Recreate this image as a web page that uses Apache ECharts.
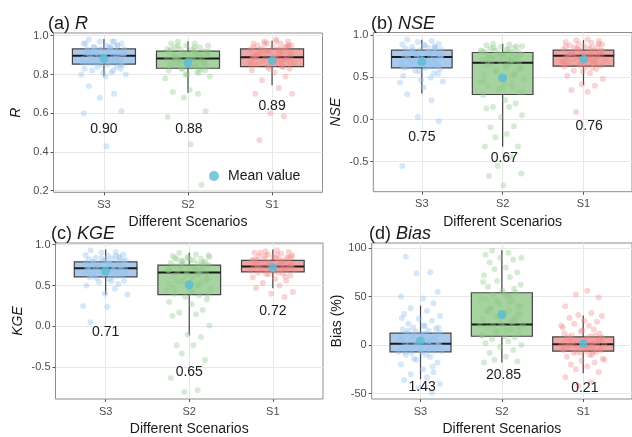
<!DOCTYPE html>
<html><head><meta charset="utf-8">
<script src="https://cdn.jsdelivr.net/npm/echarts@6/dist/echarts.min.js"></script>
<style>html,body{margin:0;padding:0;background:#fff}#c{width:632px;height:437px}</style>
</head><body><div id="c"></div>
<script>
const categories = ['S3', 'S2', 'S1'];

// ---- (a) R ----
const boxR = [[0.79, 0.853, 0.897, 0.932, 0.983], [0.706, 0.832, 0.882, 0.92, 0.971], [0.744, 0.841, 0.889, 0.932, 0.974]];
const meanR = [0.882, 0.86, 0.872];
const medianTextR = ['0.90', '0.88', '0.89'];
const textPosR = [[1, 0.516], [2.01, 0.516], [3, 0.636]];
const ptsR_S3 = [0.98,0.97,0.97,0.96,0.96,0.95,0.95,0.94,0.94,0.93,0.93,0.93,0.92,0.92,0.92,0.91,0.91,0.91,0.90,0.90,0.90,0.90,0.89,0.89,0.89,0.88,0.88,0.88,0.87,0.87,0.86,0.86,0.86,0.85,0.85,0.84,0.84,0.83,0.82,0.81,0.80,0.80,0.79,0.74,0.70,0.68,0.61,0.60,0.43,
  0.95,0.94,0.93,0.92,0.91,0.90,0.89,0.88,0.87,0.86,0.85,0.96,0.97,0.93,0.91,0.90,0.89,0.88,0.92,0.94,0.86,0.87,0.85,0.83,0.82,0.81];
const ptsR_S2 = [0.97,0.96,0.96,0.95,0.95,0.94,0.94,0.93,0.93,0.92,0.92,0.91,0.91,0.90,0.90,0.89,0.89,0.88,0.88,0.88,0.87,0.87,0.86,0.86,0.85,0.85,0.84,0.84,0.83,0.83,0.82,0.81,0.80,0.79,0.78,0.72,0.71,0.70,0.68,0.61,0.58,0.44,0.23,
  0.95,0.94,0.93,0.92,0.91,0.90,0.89,0.88,0.87,0.86,0.85,0.84,0.83,0.90,0.88,0.87,0.86,0.85,0.92,0.93,0.81,0.80,0.82,0.89,0.91];
const ptsR_S1 = [0.98,0.97,0.97,0.96,0.96,0.96,0.95,0.95,0.94,0.94,0.93,0.93,0.93,0.92,0.92,0.91,0.91,0.90,0.90,0.89,0.89,0.89,0.88,0.88,0.87,0.87,0.86,0.86,0.85,0.85,0.84,0.84,0.83,0.82,0.81,0.79,0.77,0.73,0.70,0.70,0.60,0.585,0.46,
  0.97,0.96,0.95,0.94,0.93,0.92,0.91,0.90,0.89,0.88,0.87,0.86,0.85,0.84,0.83,0.95,0.93,0.91,0.90,0.88,0.86,0.92,0.94,0.89,0.87];

// ---- (b) NSE ----
const boxNSE = [[0.309, 0.613, 0.743, 0.822, 0.945], [-0.323, 0.297, 0.672, 0.795, 0.90], [0.408, 0.633, 0.755, 0.822, 0.94]];
const meanNSE = [0.684, 0.494, 0.716];
const medianTextNSE = ['0.75', '0.67', '0.76'];
const textPosNSE = [[1, -0.205], [2.02, -0.46], [3.07, -0.078]];
const ptsNSE_S3 = [0.95,0.93,0.92,0.90,0.89,0.88,0.87,0.86,0.85,0.84,0.83,0.82,0.81,0.80,0.79,0.78,0.77,0.76,0.75,0.75,0.74,0.73,0.72,0.71,0.70,0.69,0.68,0.67,0.66,0.65,0.64,0.63,0.62,0.61,0.60,0.58,0.55,0.52,0.50,0.47,0.45,0.44,0.38,0.30,0.23,0.03,-0.02,-0.55,
  0.88,0.85,0.82,0.80,0.78,0.76,0.74,0.72,0.70,0.68,0.66,0.64,0.62,0.79,0.77,0.75,0.73,0.71,0.84,0.81,0.69,0.65,0.63,0.57,0.54];
const ptsNSE_S2 = [0.90,0.89,0.88,0.87,0.86,0.85,0.84,0.83,0.82,0.81,0.80,0.79,0.78,0.77,0.76,0.75,0.74,0.73,0.72,0.71,0.70,0.69,0.68,0.67,0.66,0.64,0.62,0.60,0.58,0.56,0.54,0.52,0.50,0.48,0.45,0.42,0.40,0.38,0.35,0.32,0.29,0.23,0.19,0.15,0.15,0.13,0.05,0.03,-0.08,-0.09,-0.17,-0.21,-0.32,-0.32,-0.44,-0.55,-0.64,-0.67,-0.78,
  0.87,0.85,0.83,0.81,0.79,0.77,0.75,0.73,0.71,0.69,0.65,0.61,0.57,0.53,0.47,0.43,0.37,0.33,0.82,0.78,0.74,0.70];
const ptsNSE_S1 = [0.95,0.94,0.93,0.92,0.91,0.90,0.89,0.88,0.87,0.86,0.85,0.84,0.83,0.82,0.81,0.80,0.79,0.78,0.77,0.76,0.76,0.75,0.74,0.73,0.72,0.71,0.70,0.69,0.68,0.67,0.66,0.65,0.64,0.63,0.62,0.60,0.58,0.55,0.52,0.48,0.42,0.40,0.35,0.33,0.09,
  0.90,0.87,0.85,0.83,0.81,0.79,0.77,0.75,0.73,0.71,0.69,0.67,0.65,0.80,0.78,0.76,0.74,0.72,0.82,0.84,0.70,0.66,0.61,0.57];

// ---- (c) KGE ----
const boxKGE = [[0.388, 0.606, 0.71, 0.79, 0.94], [-0.108, 0.388, 0.658, 0.75, 0.90], [0.468, 0.666, 0.734, 0.807, 0.94]];
const meanKGE = [0.678, 0.509, 0.718];
const medianTextKGE = ['0.71', '0.65', '0.72'];
const textPosKGE = [[1, -0.07], [2, -0.554], [3, 0.186]];
const ptsKGE_S3 = [0.93,0.91,0.90,0.88,0.87,0.86,0.85,0.84,0.83,0.82,0.81,0.80,0.79,0.78,0.77,0.76,0.75,0.74,0.73,0.72,0.71,0.71,0.70,0.69,0.68,0.67,0.66,0.65,0.64,0.63,0.62,0.61,0.60,0.58,0.56,0.54,0.52,0.50,0.46,0.40,0.39,0.25,0.24,0.05,
  0.86,0.83,0.80,0.78,0.76,0.74,0.72,0.70,0.68,0.66,0.64,0.62,0.79,0.77,0.75,0.73,0.71,0.69,0.67,0.65,0.63,0.81,0.84,0.59,0.55];
const ptsKGE_S2 = [0.90,0.88,0.86,0.85,0.84,0.83,0.82,0.81,0.80,0.79,0.78,0.77,0.76,0.75,0.74,0.73,0.72,0.71,0.70,0.69,0.68,0.67,0.66,0.65,0.64,0.62,0.60,0.58,0.56,0.54,0.52,0.50,0.48,0.46,0.44,0.42,0.40,0.38,0.36,0.33,0.30,0.27,0.20,0.17,0.15,0.13,0.01,-0.10,-0.13,-0.23,-0.23,-0.33,-0.41,-0.63,-0.78,-0.80,
  0.87,0.84,0.81,0.78,0.75,0.72,0.69,0.66,0.63,0.59,0.55,0.51,0.47,0.43,0.39,0.80,0.76,0.70,0.64,0.85];
const ptsKGE_S1 = [0.93,0.92,0.91,0.90,0.89,0.88,0.87,0.86,0.85,0.84,0.83,0.82,0.81,0.80,0.79,0.78,0.77,0.76,0.75,0.74,0.73,0.73,0.72,0.72,0.71,0.70,0.69,0.68,0.67,0.66,0.65,0.64,0.62,0.60,0.58,0.56,0.53,0.50,0.47,0.42,0.40,0.36,
  0.90,0.88,0.86,0.84,0.82,0.80,0.78,0.76,0.74,0.72,0.70,0.68,0.66,0.79,0.77,0.75,0.73,0.71,0.69,0.81,0.83,0.85,0.64,0.61];

// ---- (d) Bias ----
const boxBias = [[-35.1, -6.9, 1.5, 12.4, 40.6], [-17.8, 9.1, 21.3, 53.9, 97.6], [-29, -6.2, 0.9, 8.4, 30.4]];
const meanBias = [4.3, 31.5, 1.5];
const medianTextBias = ['1.43', '20.85', '0.21'];
const textPosBias = [[1.02, -43.1], [2.02, -31.1], [3.02, -44.1]];
const ptsBias_S3 = [91,75,74,55,50,48,43,38,35,32,30,27,25,22,20,18,17,16,15,14,13,12,11,10,9,8,7,6,5,4,3,2,2,1,0,-1,-2,-3,-4,-5,-6,-7,-8,-10,-12,-15,-18,-20,-25,-28,-30,-33,-36,-40,-44,-49,
  15,12,10,8,6,4,2,0,-2,-4,-6,-8,-10,5,3,1,-1,-3,-5,-7,20,18,-14,-22,28];
const ptsBias_S2 = [97,95,93,90,90,88,85,80,78,75,72,70,66,62,60,56,54,52,50,48,45,42,40,38,36,35,33,31,30,28,26,24,22,21,20,19,18,16,14,12,10,9,8,6,4,2,0,-2,-5,-8,-12,-15,-17,-18,
  50,45,40,35,30,25,20,15,10,23,27,33,38,43,47,52,18,14,58,65];
const ptsBias_S1 = [56,52,49,40,33,31,30,28,25,24,22,20,18,16,14,12,10,9,8,7,6,5,4,3,2,1,1,0,0,-1,-2,-3,-4,-5,-6,-7,-8,-10,-12,-14,-16,-18,-20,-22,-25,-28,-33,-38,-42,
  8,6,4,2,0,-2,-4,-6,-8,5,3,1,-1,-3,-5,-7,10,12,-10,15,-15,20];

// fixed horizontal jitter offsets (category units), cycled over points
const jitter = [-0.18,0.12,-0.05,0.21,-0.24,0.03,0.16,-0.12,0.08,-0.2,0.24,-0.02,0.14,-0.15,0.05,-0.09,0.19,-0.22,0.1,-0.06,0.23,-0.17,0.01,0.17,-0.11,0.07,-0.25,0.13,-0.03,0.2,-0.14,0.09,-0.19,0.04,0.22,-0.08,0.15,-0.23,0.11,-0.01,0.26,-0.27,0.02];

const yTicksR = [0.2, 0.4, 0.6, 0.8, 1.0];
const yTicksNSE = [-0.5, 0, 0.5, 1.0];
const yTicksKGE = [-0.5, 0, 0.5, 1.0];
const yTicksBias = [-50, 0, 50, 100];

const FONT = 'Liberation Sans, Arial, sans-serif';
const boxFill = ['#aacaed', '#a6d3a0', '#f1a6a6'];
const ptColor = ['rgba(150,195,238,0.5)', 'rgba(140,200,135,0.45)', 'rgba(240,135,135,0.45)'];
const meanColor = '#58bdd6';

const panels = [
  {box: boxR, mean: meanR, txt: medianTextR, txtPos: textPosR, pts: [ptsR_S3, ptsR_S2, ptsR_S1], ticks: yTicksR, dec: 1,
   grid: {left: 53.5, top: 33, width: 269, height: 159.3}, ymin: 0.192, ymax: 1.014, yname: 'R', italic: true},
  {box: boxNSE, mean: meanNSE, txt: medianTextNSE, txtPos: textPosNSE, pts: [ptsNSE_S3, ptsNSE_S2, ptsNSE_S1], ticks: yTicksNSE, dec: 1,
   grid: {left: 373.3, top: 32.5, width: 266.7, height: 159.2}, ymin: -0.855, ymax: 1.032, yname: 'NSE', italic: true},
  {box: boxKGE, mean: meanKGE, txt: medianTextKGE, txtPos: textPosKGE, pts: [ptsKGE_S3, ptsKGE_S2, ptsKGE_S1], ticks: yTicksKGE, dec: 1,
   grid: {left: 55.5, top: 243, width: 267.5, height: 157.7}, ymin: -0.887, ymax: 1.02, yname: 'KGE', italic: true},
  {box: boxBias, mean: meanBias, txt: medianTextBias, txtPos: textPosBias, pts: [ptsBias_S3, ptsBias_S2, ptsBias_S1], ticks: yTicksBias, dec: 0,
   grid: {left: 371.7, top: 243, width: 268.3, height: 157.7}, ymin: -55.5, ymax: 105.1, yname: 'Bias (%)', italic: false}
];

function renderBox(params, api) {
  const x = api.value(0);
  const pLo = api.coord([x, api.value(1)]);
  const pQ1 = api.coord([x, api.value(2)]);
  const pMed = api.coord([x, api.value(3)]);
  const pQ3 = api.coord([x, api.value(4)]);
  const pHi = api.coord([x, api.value(5)]);
  const w = api.size([0.75, 0])[0];
  const cx = pMed[0];
  return {type: 'group', children: [
    {type: 'line', shape: {x1: cx, y1: pHi[1], x2: cx, y2: pQ3[1]}, style: {stroke: '#444', lineWidth: 1.2}},
    {type: 'line', shape: {x1: cx, y1: pQ1[1], x2: cx, y2: pLo[1]}, style: {stroke: '#444', lineWidth: 1.2}},
    {type: 'rect', shape: {x: cx - w / 2, y: pQ3[1], width: w, height: pQ1[1] - pQ3[1]}, style: {fill: boxFill[params.dataIndex], stroke: '#444', lineWidth: 1.2}},
    {type: 'line', shape: {x1: cx - w / 2, y1: pMed[1], x2: cx + w / 2, y2: pMed[1]}, style: {stroke: '#1a1a1a', lineWidth: 2}}
  ]};
}

const grids = [], xAxes = [], yAxes = [], series = [];
panels.forEach((p, i) => {
  grids.push(Object.assign({show: true, borderColor: '#8c8c8c', borderWidth: 1, backgroundColor: '#fff'}, p.grid));
  xAxes.push({
    type: 'value', gridIndex: i, min: 0.4, max: 3.6, position: 'bottom',
    axisLine: {show: false, onZero: false},
    axisTick: {show: true, customValues: [1, 2, 3], length: 3, lineStyle: {color: '#555'}},
    axisLabel: {customValues: [1, 2, 3], formatter: v => categories[Math.round(v) - 1], color: '#4d4d4d', fontSize: 11, fontFamily: FONT, margin: 7},
    splitLine: {show: true, lineStyle: {color: '#e8e8e8', width: 1}},
    name: 'Different Scenarios', nameLocation: 'middle', nameGap: 23,
    nameTextStyle: {fontSize: 14, color: '#1a1a1a', fontFamily: FONT}
  });
  yAxes.push({
    type: 'value', gridIndex: i, min: p.ymin, max: p.ymax, position: 'left',
    axisLine: {show: false, onZero: false},
    axisTick: {show: true, customValues: p.ticks, length: 3, lineStyle: {color: '#555'}},
    axisLabel: {customValues: p.ticks, formatter: v => Number(v).toFixed(p.dec), color: '#4d4d4d', fontSize: 11, fontFamily: FONT, margin: 5},
    splitLine: {show: true, lineStyle: {color: '#e8e8e8', width: 1}},
    name: p.yname, nameLocation: 'middle', nameGap: p.dec === 0 ? 26 : 30,
    nameTextStyle: {fontSize: 14, color: '#1a1a1a', fontFamily: FONT, fontStyle: p.italic ? 'italic' : 'normal'}
  });
  series.push({
    type: 'custom', xAxisIndex: i, yAxisIndex: i, z: 2,
    renderItem: renderBox,
    encode: {x: 0, y: [1, 2, 3, 4, 5]},
    data: p.box.map((b, k) => [k + 1].concat(b))
  });
  p.pts.forEach((arr, k) => {
    series.push({
      type: 'scatter', xAxisIndex: i, yAxisIndex: i, z: 3, symbolSize: 6,
      itemStyle: {color: ptColor[k]},
      silent: true,
      data: arr.map((v, j) => [k + 1 + jitter[(j + k * 7) % jitter.length], v])
    });
  });
  series.push({
    type: 'scatter', name: 'Mean value', xAxisIndex: i, yAxisIndex: i, z: 4, symbolSize: 9,
    itemStyle: {color: meanColor},
    data: p.mean.map((v, k) => [k + 1, v])
  });
  series.push({
    type: 'custom', xAxisIndex: i, yAxisIndex: i, z: 5, silent: true,
    encode: {x: 0, y: 1},
    renderItem: (prm, api) => {
      const pt = api.coord([api.value(0), api.value(1)]);
      return {type: 'text', x: pt[0], y: pt[1], style: {text: p.txt[prm.dataIndex], fontSize: 14, fill: '#1a1a1a', fontFamily: FONT, align: 'center', verticalAlign: 'middle'}};
    },
    data: p.txtPos.map(t => [t[0], t[1]])
  });
});

const titleRich = {i: {fontStyle: 'italic', fontSize: 18, color: '#1a1a1a', fontFamily: FONT}};
const titles = [
  {text: '(a) {i|R}', left: 48, top: 15},
  {text: '(b) {i|NSE}', left: 371, top: 15},
  {text: '(c) {i|KGE}', left: 51, top: 225},
  {text: '(d) {i|Bias}', left: 369, top: 225}
].map(t => Object.assign(t, {padding: 0, textStyle: {fontSize: 18, fontWeight: 'normal', color: '#1a1a1a', fontFamily: FONT, rich: titleRich}}));

const chart = echarts.init(document.getElementById('c'), null, {renderer: 'canvas'});
chart.setOption({
  animation: false,
  backgroundColor: '#fff',
  title: titles,
  legend: {
    data: [{name: 'Mean value', icon: 'circle'}], left: 204, top: 164, itemWidth: 10, itemHeight: 10,
    textStyle: {fontSize: 14, color: '#1a1a1a', fontFamily: FONT, padding: [0, 0, 0, 4]},
    selectedMode: false
  },
  grid: grids, xAxis: xAxes, yAxis: yAxes, series: series
});
</script></body></html>
